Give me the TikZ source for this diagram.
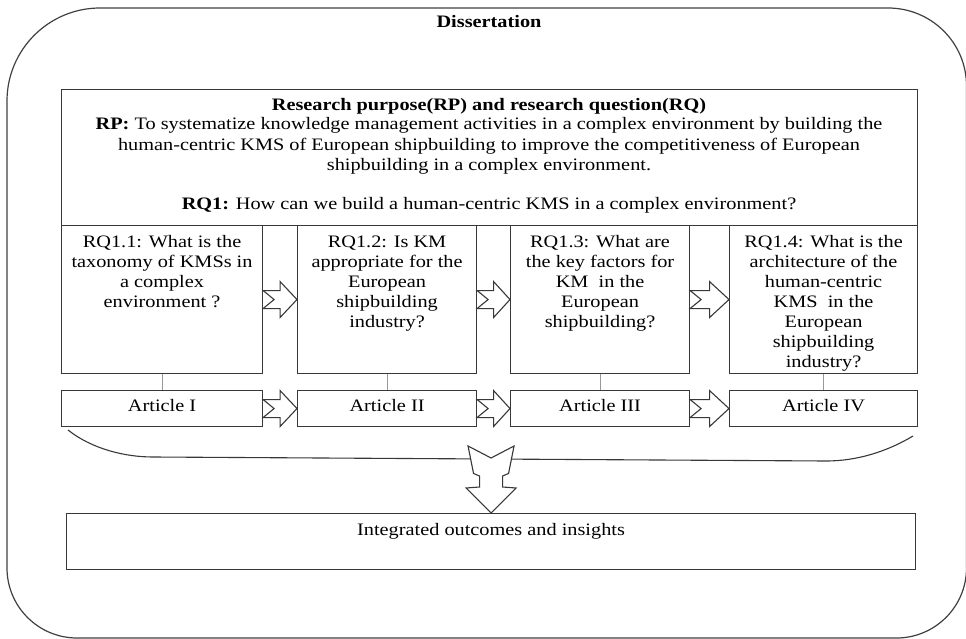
\documentclass[tikz,border=0pt]{standalone}
\usepackage{fontspec}
\setmainfont{Liberation Serif}[FakeStretch=1.16]
\usetikzlibrary{calc}

% right-pointing block arrow with a notched tail, from node #1 to node #2
\newcommand\blockright[2]{%
  \draw[blockarrow] let \p1=(#1.east), \p2=(#2.west), \n1={(\x2-\x1)/2} in
    (\x1,\y1+9pt) -- (\x1+\n1,\y1+9pt) -- (\x1+\n1,\y1+18pt) -- (\x2,\y1)
    -- (\x1+\n1,\y1-18pt) -- (\x1+\n1,\y1-9pt) -- (\x1,\y1-9pt)
    -- (\x1+11pt,\y1) -- cycle;}

\begin{document}
\begin{tikzpicture}[x=1pt,y=-1pt,
  line/.style={draw=black!78, line width=1.1pt},
  box/.style={line, rectangle, inner sep=0pt, anchor=north west},
  txt/.style={inner sep=0pt, align=center, font=\fontsize{17.5}{20}\selectfont},
  link/.style={draw=black!40, line width=0.8pt},
  blockarrow/.style={line, fill=white, line join=miter},
  frame/.style={draw=black!75, line width=1.2pt}
]
\useasboundingbox (0,0) rectangle (966,639);

% outer dissertation frame
\draw[frame] (7,101) .. controls (7,49.7) and (48.7,8) .. (100,8)
  -- (888,8) .. controls (931.3,8) and (966.5,42.7) .. (966.5,86)
  -- (966.5,568) .. controls (966.5,606.6) and (935.1,638) .. (896.5,638)
  -- (77,638) .. controls (38.4,638) and (7,606.6) .. (7,568) -- cycle;
\node[txt, anchor=base, font=\fontsize{17.5}{20}\selectfont\bfseries] (diss) at (489,28) {Dissertation};

% research purpose and main question (anchored on the baseline of the last line)
\node[box, minimum width=856pt, minimum height=136pt] (rp) at (61,89) {};
\node[txt, anchor=base] (rptext) at (489,209) {%
  \textbf{Research purpose(RP) and research question(RQ)}\\
  \textbf{RP:} To systematize knowledge management activities in a complex environment by building the\\
  human-centric KMS of European shipbuilding to improve the competitiveness of European\\
  shipbuilding in a complex environment.\\[19pt]
  \textbf{RQ1:} How can we build a human-centric KMS in a complex environment?};

% sub-questions
\node[box, minimum width=201pt, minimum height=148pt] (rq1) at (61,225) {};
\node[box, minimum width=179pt, minimum height=148pt] (rq2) at (297,225) {};
\node[box, minimum width=179pt, minimum height=148pt] (rq3) at (510,225) {};
\node[box, minimum width=188pt, minimum height=148pt] (rq4) at (729,225) {};

\node[txt, anchor=base] (q1) at (rq1.center |- 0,307) {RQ1.1: What is the\\taxonomy of KMSs in\\a complex\\environment ?};
\node[txt, anchor=base] (q2) at (rq2.center |- 0,327) {RQ1.2: Is KM\\appropriate for the\\European\\shipbuilding\\industry?};
\node[txt, anchor=base] (q3) at (rq3.center |- 0,327) {RQ1.3: What are\\the key factors for\\KM\ \ in the\\European\\shipbuilding?};
\node[txt, anchor=base] (q4) at (rq4.center |- 0,367) {RQ1.4: What is the\\architecture of the\\human-centric\\KMS\ \ in the\\European\\shipbuilding\\industry?};

% articles
\node[box, minimum width=201pt, minimum height=36pt] (art1) at (61,390) {};
\node[box, minimum width=179pt, minimum height=36pt] (art2) at (297,390) {};
\node[box, minimum width=179pt, minimum height=36pt] (art3) at (510,390) {};
\node[box, minimum width=188pt, minimum height=36pt] (art4) at (729,390) {};
\node[txt, anchor=base] (a1) at (art1.center |- 0,411) {Article I};
\node[txt, anchor=base] (a2) at (art2.center |- 0,411) {Article II};
\node[txt, anchor=base] (a3) at (art3.center |- 0,411) {Article III};
\node[txt, anchor=base] (a4) at (art4.center |- 0,411) {Article IV};

% question-to-article links
\foreach \i in {1,...,4} \draw[link] (rq\i.south) -- (art\i.north);

% flow arrows
\blockright{rq1}{rq2}
\blockright{rq2}{rq3}
\blockright{rq3}{rq4}
\blockright{art1}{art2}
\blockright{art2}{art3}
\blockright{art3}{art4}

% integrated outcomes
\node[box, minimum width=849pt, minimum height=56pt] (outc) at (66,513) {};
\node[txt, anchor=base] (outtext) at (outc.center |- 0,535) {Integrated outcomes and insights};

% bracket gathering the articles
\coordinate (brl) at (68,430);
\coordinate (brr) at (913,436);
\draw[line] (brl) .. controls (92,449) and (125,457) .. (153,457)
  -- (826,461) .. controls (858,461) and (888,451) .. (brr);

% large arrow down to the outcomes
\draw[blockarrow] (outc.north)
  -- ++(-25,-25) -- ++(13.5,-1) -- ++(0,-11) -- ++(-6,-2.5) -- ++(-5.5,-27.5)
  -- ++(23,12) -- ++(23,-12) -- ++(-5.5,27.5) -- ++(-6,2.5) -- ++(0,11)
  -- ++(13.5,1) -- cycle;
\end{tikzpicture}
\end{document}
